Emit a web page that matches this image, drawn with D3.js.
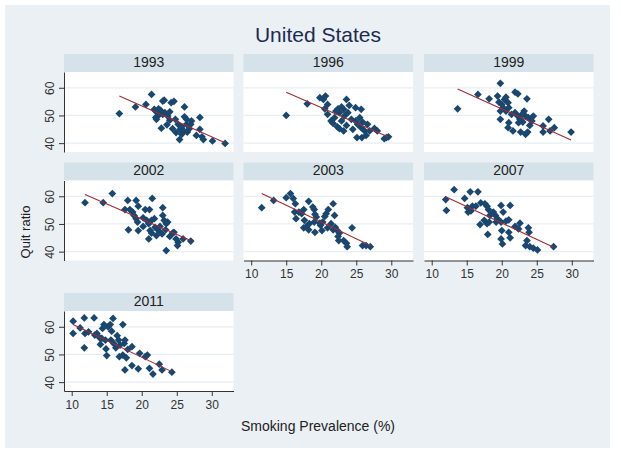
<!DOCTYPE html>
<html><head><meta charset="utf-8">
<script src="https://cdn.jsdelivr.net/npm/d3@7"></script>
<style>
body{margin:0;background:#fff}
svg{display:block}
text{font-family:"Liberation Sans",Arial,sans-serif}
</style>
</head><body>
<svg id="c" width="621" height="455"></svg>
<script>
// ---- data (x = smoking prevalence %, y = quit ratio) ----
const years = ["1993","1996","1999","2002","2003","2007","2011"];
const pts1993 = [[16.8,50.7],[19.1,53.1],[20.6,54.0],[21.4,57.6],[21.8,52.2],[22.0,51.5],[22.4,52.4],[22.7,51.8],[23.0,55.2],[23.2,55.5],[23.0,50.4],[22.0,49.3],[22.1,48.6],[22.8,45.4],[23.3,51.0],[23.7,49.8],[24.0,51.3],[24.2,54.6],[24.6,55.1],[24.0,48.3],[23.6,46.6],[24.4,45.2],[24.8,48.6],[25.2,46.8],[25.5,45.0],[25.7,45.9],[26.0,44.4],[26.1,53.1],[26.1,49.5],[26.4,46.8],[26.5,44.0],[25.4,41.3],[26.8,45.2],[27.1,48.0],[27.0,46.8],[27.8,42.8],[28.3,49.3],[28.3,45.0],[28.6,42.3],[28.8,41.3],[30.1,40.8],[31.9,39.9],[24.9,43.8],[25.7,43.2],[22.5,50.3],[26.4,48.6]];
const pts1996 = [[15.0,50.0],[18.0,54.2],[19.8,56.4],[20.6,57.0],[20.3,55.8],[20.9,54.0],[20.5,52.4],[20.9,50.4],[21.4,48.0],[21.7,47.1],[22.1,51.6],[22.4,52.4],[22.6,51.0],[22.9,53.1],[23.2,52.2],[23.6,55.8],[23.3,49.8],[23.8,51.0],[24.0,53.6],[22.3,45.9],[22.6,45.2],[23.2,44.4],[23.6,46.4],[22.9,48.0],[24.3,48.6],[24.9,52.8],[25.7,52.2],[24.9,48.0],[25.2,46.8],[25.7,45.6],[25.9,47.6],[26.2,44.4],[25.1,42.0],[25.8,42.0],[26.4,42.8],[26.6,46.8],[26.9,44.4],[27.6,45.3],[28.0,44.4],[29.0,41.6],[29.3,42.0],[29.6,42.3],[24.5,45.0],[25.5,49.2],[21.9,49.2]];
const pts1999 = [[13.7,52.4],[16.6,57.6],[18.2,56.0],[19.8,61.6],[19.4,57.0],[19.6,54.8],[20.0,54.0],[20.4,55.8],[20.6,56.6],[20.9,54.6],[20.2,52.8],[20.6,51.6],[21.0,52.8],[19.8,51.6],[21.9,58.4],[22.3,57.8],[23.6,56.0],[19.8,48.6],[21.0,47.4],[20.9,45.6],[21.6,44.4],[21.9,51.0],[22.3,49.8],[22.6,48.6],[23.2,51.6],[23.4,49.8],[23.8,49.2],[22.4,47.4],[23.0,47.6],[24.0,46.4],[24.5,49.8],[22.7,44.0],[23.4,43.2],[23.7,44.0],[25.9,46.2],[26.7,48.6],[25.9,44.0],[26.9,44.4],[27.5,45.6],[29.9,44.0],[24.3,48.0],[21.4,50.4],[22.9,50.4]];
const pts2002 = [[11.9,57.7],[14.5,57.7],[15.8,61.0],[17.6,55.2],[18.0,58.5],[18.3,55.2],[18.7,54.3],[19.2,58.5],[19.5,56.4],[18.9,53.1],[19.2,51.9],[19.4,50.7],[18.1,47.9],[19.5,47.6],[20.2,52.2],[20.5,55.2],[21.1,55.2],[20.7,51.3],[21.0,50.1],[21.5,59.2],[21.4,51.3],[21.8,51.9],[21.2,47.6],[21.4,46.7],[21.0,44.6],[22.1,45.8],[22.4,47.6],[22.6,49.1],[23.0,55.9],[23.0,53.1],[23.2,51.3],[23.5,50.1],[23.7,50.7],[23.4,47.9],[22.9,46.4],[23.5,40.4],[24.0,45.5],[24.4,46.7],[24.6,47.0],[24.9,44.6],[25.2,43.4],[25.1,42.2],[25.9,44.6],[27.0,43.8],[21.9,48.8],[20.2,49.1]];
const pts2003 = [[11.5,55.9],[13.2,58.5],[15.0,59.5],[15.6,61.0],[16.0,59.2],[16.3,57.3],[16.2,54.3],[16.4,51.9],[16.8,54.3],[17.2,53.7],[17.5,55.2],[18.2,58.2],[17.6,51.3],[17.5,48.6],[17.9,49.1],[18.2,47.9],[18.3,50.1],[18.8,56.1],[19.0,55.2],[19.1,53.5],[19.3,52.5],[19.0,50.7],[19.1,47.0],[19.9,49.5],[20.1,47.6],[20.2,50.7],[20.5,52.7],[20.7,53.7],[21.0,55.2],[21.7,57.3],[21.9,53.1],[20.9,48.6],[21.4,50.1],[21.7,47.9],[22.0,48.8],[22.3,47.6],[22.6,46.7],[22.5,44.0],[23.2,44.0],[23.6,43.0],[23.7,41.8],[24.4,48.6],[25.9,42.2],[26.4,42.2],[27.0,41.8],[19.8,50.3],[22.4,45.5]];
const pts2007 = [[12.0,58.8],[12.1,54.9],[13.2,62.4],[14.7,59.2],[15.1,55.9],[15.5,61.6],[15.2,54.3],[15.6,54.7],[15.8,56.4],[16.6,61.6],[16.3,56.4],[17.0,57.6],[16.9,49.8],[17.6,57.3],[17.9,56.4],[18.1,55.2],[17.5,51.3],[17.9,50.1],[18.2,50.7],[18.0,46.2],[18.8,54.3],[19.1,53.1],[19.4,51.9],[19.2,50.7],[19.9,56.7],[20.2,54.3],[19.9,50.7],[20.0,47.6],[19.9,44.6],[20.1,42.8],[20.6,51.0],[21.0,51.5],[21.2,56.7],[21.0,47.0],[21.2,45.0],[22.4,48.2],[22.6,50.3],[23.8,48.6],[23.9,47.0],[23.6,44.0],[23.4,42.2],[24.0,41.8],[24.5,41.3],[25.1,40.6],[27.4,41.8],[21.9,49.1],[18.3,53.1]];
const pts2011 = [[10.2,62.0],[10.2,57.6],[11.2,59.6],[11.8,63.2],[11.9,57.6],[11.8,52.4],[12.4,58.2],[13.2,63.2],[13.3,57.0],[13.6,57.6],[14.0,56.0],[14.1,53.6],[14.4,59.4],[14.6,60.8],[14.8,55.2],[14.9,52.0],[15.0,49.6],[15.2,60.0],[15.5,60.8],[15.7,58.4],[15.9,63.0],[15.6,55.2],[16.0,54.0],[16.3,52.4],[16.5,56.8],[16.7,55.2],[16.9,53.4],[16.8,49.2],[17.3,60.8],[17.3,49.8],[17.5,54.0],[17.6,55.2],[17.8,48.8],[17.6,44.4],[18.6,46.0],[18.6,52.8],[19.5,44.8],[19.7,50.4],[20.5,49.2],[20.8,49.8],[21.1,45.0],[21.6,42.9],[22.5,46.5],[22.9,44.4],[24.3,43.6],[18.0,51.8],[14.3,55.8]];
const points = [pts1993, pts1996, pts1999, pts2002, pts2003, pts2007, pts2011];
// fitted line: quit ratio at the smallest and largest prevalence of each year
const fitStartY = [57.0, 58.4, 59.6, 60.6, 61.0, 59.8, 60.8];
const fitEndY   = [40.1, 42.2, 41.1, 44.0, 42.2, 41.6, 43.8];
const xTicks = [10, 15, 20, 25, 30];
const yTicks = [40, 50, 60];

// ---- layout ----
const svg = d3.select("#c");
svg.append("rect").attr("x",5).attr("y",5).attr("width",605).attr("height",443).attr("fill","#eaf0f4");

const colLeft = [64, 243.5, 424];
const rowTop = [54, 162.5, 293];
const plotW = 169.5, plotH = 80, stripH = 18;

const x = d3.scaleLinear().domain([8.9, 33.1]).range([0, plotW]);
const y = d3.scaleLinear().domain([36.8, 65.7]).range([plotH, 0]);
const diamond = d3.symbol(d3.symbolSquare, 30);

years.forEach((yr, i) => {
  const col = i % 3, row = Math.floor(i / 3);
  const g = svg.append("g").attr("transform", `translate(${colLeft[col]},${rowTop[row] + stripH})`);
  // strip
  g.append("rect").attr("x",0).attr("y",-stripH).attr("width",plotW).attr("height",stripH).attr("fill","#d6e2ea");
  g.append("text").attr("x",plotW/2).attr("y",-5.5).attr("text-anchor","middle")
    .attr("font-size","14px").attr("fill","#222").text(yr);
  // plot area
  g.append("rect").attr("width",plotW).attr("height",plotH).attr("fill","#fff");
  g.selectAll("line.grid").data(yTicks).join("line").attr("class","grid")
    .attr("x1",0).attr("x2",plotW).attr("y1",d=>y(d)).attr("y2",d=>y(d))
    .attr("stroke","#e6eef2").attr("stroke-width",1.2);
  // y axis on first column
  if (col === 0) {
    const ya = g.append("g").call(d3.axisLeft(y).tickValues(yTicks).tickSize(5).tickSizeOuter(0));
    ya.select(".domain").attr("stroke","#333");
    ya.selectAll(".tick line").attr("stroke","#333");
    ya.selectAll(".tick text").attr("x",0).attr("y",0).attr("dy",0)
      .attr("text-anchor","middle").attr("transform","translate(-10,0) rotate(-90)")
      .attr("font-size","12px").attr("fill","#333").attr("font-family","Liberation Sans, Arial, sans-serif");
  }
  // x axis where nothing below
  if (i + 3 >= years.length) {
    const xa = g.append("g").attr("transform",`translate(0,${plotH})`)
      .call(d3.axisBottom(x).tickValues(xTicks).tickSize(5).tickSizeOuter(0).tickPadding(4));
    xa.select(".domain").attr("stroke","#333");
    xa.selectAll(".tick line").attr("stroke","#333");
    xa.selectAll(".tick text").attr("font-size","12px").attr("fill","#333")
      .attr("font-family","Liberation Sans, Arial, sans-serif");
  }
  // markers
  g.selectAll("path.pt").data(points[i]).join("path").attr("class","pt")
    .attr("d", diamond)
    .attr("transform", d => `translate(${x(d[0])},${y(d[1])}) rotate(45)`)
    .attr("fill","#1a476f");
  // fitted line
  const xs = points[i].map(d => d[0]);
  const x0 = d3.min(xs), x1 = d3.max(xs);
  g.append("line").attr("x1",x(x0)).attr("y1",y(fitStartY[i]))
    .attr("x2",x(x1)).attr("y2",y(fitEndY[i]))
    .attr("stroke","#a02c34").attr("stroke-width",1.1);
});

// titles
svg.append("text").attr("x",318).attr("y",42).attr("text-anchor","middle")
  .attr("font-size","21px").attr("fill","#1c2b4f").text("United States");
svg.append("text").attr("transform","translate(30,232) rotate(-90)").attr("text-anchor","middle")
  .attr("font-size","13px").attr("fill","#222").text("Quit ratio");
svg.append("text").attr("x",318).attr("y",430.5).attr("text-anchor","middle")
  .attr("font-size","14px").attr("fill","#222").text("Smoking Prevalence (%)");
</script>
</body></html>
